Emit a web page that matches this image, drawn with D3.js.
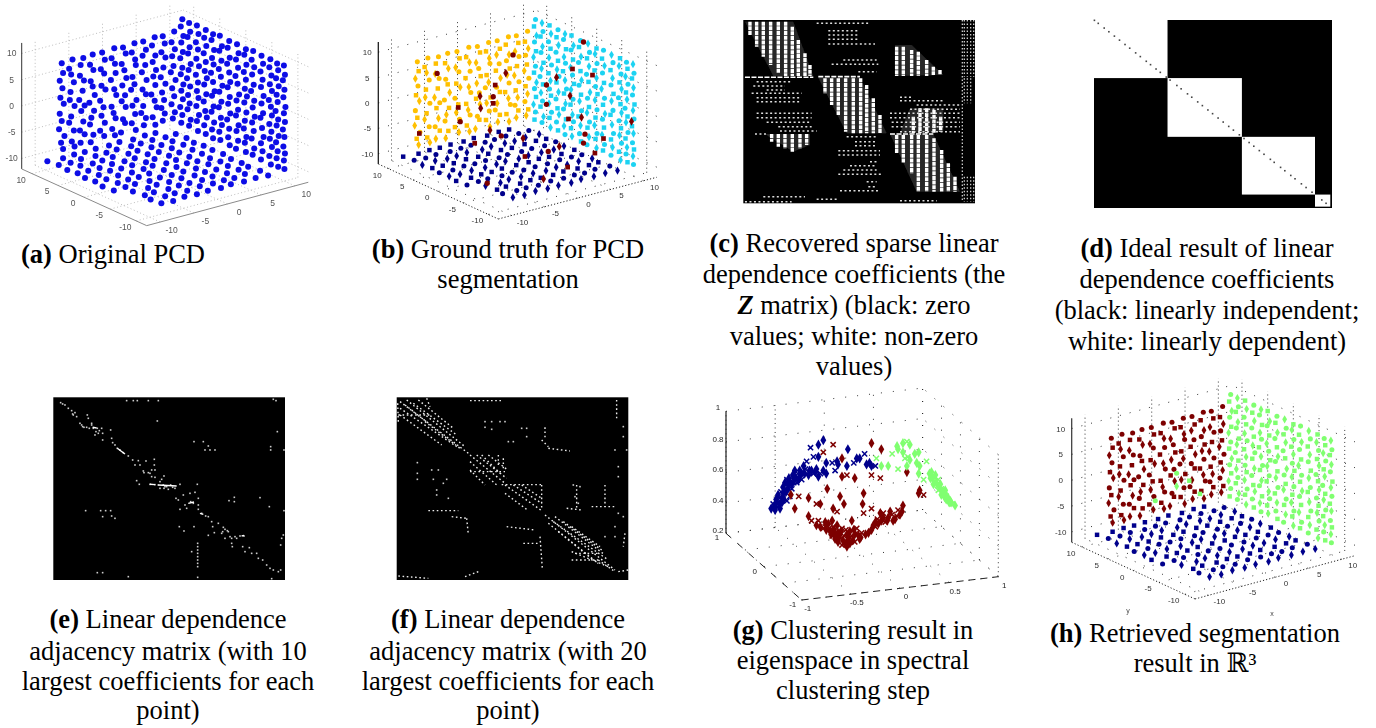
<!DOCTYPE html>
<html><head><meta charset="utf-8">
<script src="https://cdn.jsdelivr.net/npm/d3@7"></script>
<style>html,body{margin:0;padding:0;background:#fff}svg{display:block}</style>
</head><body><svg id="c" width="1376" height="728"></svg>
<script>
// ---------- shared point cloud (axis units) ----------
const backWall = [ // y = 10 plane: [x, z]
[-7.6,7.5],[-7.4,5.6],[-7.9,4.3],[-7.5,2.7],[-7.8,1.0],[-7.3,-0.3],[-7.9,-2.0],[-7.6,-3.5],[-8.0,-4.9],[-7.2,-6.5],[-7.7,-7.6],[-7.4,-8.9],
[-6.0,7.7],[-6.5,6.1],[-6.2,4.9],[-5.8,3.3],[-6.3,1.6],[-6.4,0.1],[-5.7,-1.3],[-6.2,-3.1],[-6.5,-4.2],[-5.8,-5.9],[-6.1,-7.9],[-5.7,-9.0],
[-4.4,7.4],[-4.8,6.2],[-4.9,4.2],[-4.3,3.1],[-4.5,1.2],[-5.0,-0.4],[-4.2,-1.7],[-4.7,-2.6],[-4.4,-4.7],[-4.9,-6.2],[-4.2,-7.2],[-4.8,-8.6],
[-3.0,7.6],[-3.4,5.8],[-2.9,4.6],[-3.3,2.6],[-3.0,1.5],[-2.7,-0.2],[-3.5,-1.4],[-2.8,-3.2],[-3.2,-4.4],[-3.4,-5.6],[-2.9,-7.7],[-3.3,-9.0],
[-1.6,7.5],[-1.2,6.0],[-1.8,4.4],[-1.3,3.4],[-1.7,1.2],[-1.1,0.3],[-1.9,-1.6],[-1.4,-3.0],[-1.7,-4.5],[-1.2,-6.0],[-1.9,-7.3],[-1.3,-8.5],
[0.2,7.7],[-0.2,5.9],[0.3,4.7],[0.4,2.9],[-0.3,1.8],[0.2,-0.1],[0.5,-1.3],[-0.2,-3.3],[0.1,-4.6],[0.4,-5.7],[-0.1,-7.6],[0.3,-8.9],
[1.5,7.4],[1.9,6.1],[1.3,4.3],[1.7,3.0],[2.0,1.4],[1.4,0.2],[1.8,-1.8],[1.3,-2.8],[1.9,-4.1],[1.5,-6.3],[1.8,-7.1],[1.2,-8.7],
[3.2,7.6],[2.8,6.0],[3.3,4.5],[3.4,3.4],[2.9,1.3],[3.2,-0.2],[2.7,-1.1],[3.5,-3.3],[2.9,-4.2],[3.3,-5.9],[2.8,-7.5],[3.4,-9.0],
[4.5,7.5],[4.9,5.8],[4.4,4.8],[4.8,2.9],[4.3,1.7],[5.0,0.0],[4.4,-1.6],[4.9,-2.7],[4.5,-4.8],[4.2,-6.0],[4.9,-7.2],[4.6,-8.5],
[6.2,7.7],[5.8,6.3],[6.3,4.2],[5.9,3.1],[6.4,1.4],[6.0,0.3],[6.3,-1.4],[5.7,-3.0],[6.2,-4.4],[6.5,-5.7],[5.9,-7.4],[6.3,-9.0],
[7.4,7.5],[7.7,6.0],[7.2,4.5],[7.8,3.3],[7.5,1.5],[7.1,-0.2],[7.8,-1.7],[7.3,-3.2],[7.6,-4.7],[7.2,-6.1],[7.7,-7.3],[7.4,-8.6],
[9.1,7.8],[8.7,5.9],[9.2,4.4],[8.8,3.2],[9.0,1.3],[8.6,0.2],[9.3,-1.5],[8.8,-2.9],[9.1,-4.5],[8.7,-5.9],[9.2,-7.6],[8.9,-8.7]
];
const sideWall = [ // x = 10 plane: [y, z]
[9.6,10],[9.9,8.5],[9.4,6.9],[9.8,5.5],[9.5,3.8],[10,2.4],[9.6,0.8],[9.9,-0.6],[9.4,-2.3],[9.8,-3.7],[9.5,-5.2],[10,-6.9],[9.6,-8.2],[9.8,-9.8],
[8.3,9.9],[8.1,8.3],[8.6,7.1],[8.2,5.3],[8.5,4.0],[8.0,2.2],[8.4,0.9],[8.7,-0.8],[8.1,-2.1],[8.5,-3.9],[8.2,-5.4],[8.6,-6.7],[8.0,-8.4],[8.3,-9.7],
[6.8,10.1],[6.5,8.6],[7.0,6.8],[6.6,5.6],[6.9,3.7],[6.4,2.5],[7.0,0.6],[6.6,-0.7],[6.8,-2.4],[6.5,-3.6],[6.9,-5.3],[6.4,-6.8],[6.8,-8.1],[6.6,-9.9],
[5.1,10],[5.4,8.4],[5.0,7.0],[5.5,5.4],[5.1,3.9],[5.3,2.1],[4.9,0.9],[5.4,-0.5],[5.0,-2.2],[5.5,-3.8],[5.2,-5.5],[4.9,-6.6],[5.4,-8.3],[5.1,-9.8],
[3.7,9.8],[4.0,8.6],[3.5,6.9],[3.9,5.2],[3.6,4.1],[4.1,2.3],[3.7,0.7],[3.4,-0.9],[3.9,-2.0],[3.6,-3.9],[4.0,-5.1],[3.5,-6.9],[3.9,-8.4],[3.7,-10],
[2.4,10.1],[2.0,8.3],[2.5,7.2],[2.1,5.5],[2.6,3.7],[2.2,2.4],[1.9,0.8],[2.5,-0.6],[2.1,-2.3],[2.6,-3.6],[2.2,-5.4],[2.0,-6.7],[2.5,-8.2],[2.3,-9.7],
[0.6,9.9],[0.9,8.5],[0.5,6.8],[1.0,5.4],[0.6,3.9],[0.4,2.2],[0.9,1.0],[0.5,-0.7],[0.8,-2.1],[0.4,-3.8],[1.0,-5.2],[0.6,-6.8],[0.8,-8.5],[0.5,-9.9],
[-0.9,10],[-1.2,8.4],[-0.7,7.0],[-1.1,5.6],[-0.6,3.8],[-1.0,2.5],[-1.3,0.6],[-0.8,-0.8],[-1.1,-2.4],[-0.7,-3.7],[-1.2,-5.3],[-0.8,-6.6],[-1.1,-8.3],[-0.7,-10],
[-2.6,9.8],[-2.3,8.6],[-2.7,6.9],[-2.2,5.3],[-2.6,4.0],[-2.4,2.2],[-2.8,0.9],[-2.3,-0.5],[-2.7,-2.2],[-2.4,-3.9],[-2.2,-5.5],[-2.7,-6.9],[-2.4,-8.1],[-2.6,-9.8],
[-4.0,10.1],[-3.7,8.3],[-4.2,7.1],[-3.8,5.5],[-4.1,3.7],[-3.6,2.3],[-4.2,0.7],[-3.9,-0.7],[-4.3,-2.3],[-3.8,-3.6],[-4.1,-5.1],[-3.7,-6.7],[-4.2,-8.4],[-3.9,-9.7],
[-5.6,9.9],[-5.9,8.5],[-5.4,6.8],[-5.8,5.4],[-5.5,3.9],[-6.0,2.4],[-5.6,0.8],[-5.9,-0.9],[-5.4,-2.0],[-5.7,-3.8],[-6.0,-5.4],[-5.5,-6.8],[-5.8,-8.2],[-5.5,-9.9],
[-7.3,10],[-7.1,8.4],[-7.5,7.0],[-7.2,5.2],[-7.6,4.1],[-7.0,2.1],[-7.4,1.0],[-7.6,-0.6],[-7.1,-2.4],[-7.5,-3.7],[-7.2,-5.2],[-7.6,-6.6],[-7.1,-8.5],[-7.4,-10],
[-8.6,9.8],[-8.8,8.6],[-8.4,6.9],[-8.9,5.6],[-8.5,3.8],[-8.7,2.5],[-8.3,0.6],[-8.8,-0.8],[-8.5,-2.1],[-8.9,-3.9],[-8.4,-5.3],[-8.7,-6.9],[-8.5,-8.3],[-8.8,-9.8],
[-9.9,10],[-10.1,8.3],[-9.7,7.1],[-10,5.4],[-9.8,3.9],[-10.2,2.2],[-9.9,0.9],[-10.1,-0.7],[-9.7,-2.3],[-10,-3.6],[-9.8,-5.5],[-10.1,-6.7],[-9.9,-8.1],[-10,-9.7]
];
const floorPts = [ // z = -10 plane: [x, y]
[-10,-3.1],[-10.2,-1.2],[-9.9,0.6],[-10.1,2.3],[-9.8,4.1],[-10.1,5.7],[-9.9,7.6],[-10.2,9.4],
[-8.2,-9.9],[-8.4,-8.1],[-8.1,-6.6],[-8.4,-4.7],[-8.2,-3.0],[-8.1,-1.4],[-8.4,0.4],[-8.2,2.1],[-8.3,4.0],[-8.0,5.9],[-8.3,7.4],[-8.1,9.1],
[-6.6,-10.1],[-6.4,-8.3],[-6.6,-6.4],[-6.3,-4.9],[-6.7,-2.9],[-6.4,-1.2],[-6.5,0.6],[-6.3,2.4],[-6.7,3.9],[-6.4,5.6],[-6.6,7.6],[-6.3,9.3],
[-4.7,-9.8],[-4.9,-8.2],[-4.6,-6.6],[-4.8,-4.6],[-4.7,-3.1],[-4.9,-1.3],[-4.6,0.4],[-4.8,2.2],[-4.7,4.1],[-4.9,5.7],[-4.6,7.4],[-4.8,9.2],
[-3.0,-10],[-3.2,-8.4],[-2.9,-6.4],[-3.1,-4.8],[-3.0,-2.9],[-3.2,-1.1],[-2.8,0.5],[-3.1,2.3],[-3.0,3.9],[-3.2,5.9],[-2.9,7.5],[-3.1,9.3],
[-1.3,-9.9],[-1.1,-8.1],[-1.4,-6.5],[-1.2,-4.7],[-1.4,-3.1],[-1.1,-1.2],[-1.3,0.7],[-1.2,2.1],[-1.4,4.0],[-1.1,5.6],[-1.3,7.6],[-1.2,9.2],
[0.5,-10.1],[0.7,-8.3],[0.4,-6.6],[0.6,-4.9],[0.4,-3.0],[0.7,-1.3],[0.5,0.4],[0.3,2.4],[0.6,4.1],[0.4,5.8],[0.7,7.4],[0.5,9.4],
[2.2,-9.8],[2.4,-8.2],[2.1,-6.4],[2.3,-4.7],[2.2,-3.1],[2.4,-1.1],[2.1,0.6],[2.3,2.2],[2.1,3.9],[2.4,5.7],[2.2,7.5],[2.3,9.1],
[4.0,-10],[3.8,-8.4],[4.1,-6.6],[3.9,-4.8],[4.2,-2.9],[3.8,-1.3],[4.0,0.5],[3.9,2.3],[4.1,4.0],[3.8,5.6],[4.0,7.6],[4.2,9.3],
[5.8,-9.9],[5.6,-8.1],[5.9,-6.5],[5.7,-4.7],[5.9,-3.0],[5.6,-1.4],[5.8,0.4],[5.7,2.1],[5.9,4.1],[5.6,5.8],[5.8,7.4],[5.7,9.2],
[7.5,-10.1],[7.7,-8.3],[7.4,-6.4],[7.6,-4.9],[7.4,-3.1],[7.7,-1.2],[7.5,0.6],[7.6,2.4],[7.3,3.9],[7.6,5.7],[7.4,7.5]
];
// outliers in the ground truth panel: [x,y,z]
const outliersB = [[-4.6,10,4.2],[-1.4,10,-3.6],[1.9,10,-2.5],[3.9,10,-3.3],[4.2,10,-1.1],[5.8,10,.7],[6.9,10,3.9],[3.9,10,-4.6],[2,10,-4.9],[-1.1,10,-6.5],[-7.3,10,-6.7],[3.4,10,-9.7],
[10,0,9.9],[10,2.2,3.6],[10,5.4,.5],[10,7.4,-1.9],[10,-1.8,4.2],[10,2.7,-1.9],[10,7.4,-5.7],[10,3,-6.6],[10,.4,-5.1],[10,-.3,-8.1],[10,-4,-7.3],[10,-9.6,-1.4],[10,0,-10],
[1.55,.55,-10],[6.96,.83,-10],[4.85,.25,-10],[3.43,-5.5,-10],[-1.36,-7,-10],[-7.7,-4.1,-10],[9,-3.6,-10],[5.2,5.75,-10],[3.6,8,-10],[-.5,7.9,-10]];
const mislabeledH = [[2.2,10,-2.7],[4.1,10,-4.8],[2.2,10,-5.2],[-1,10,-6.9],[5.7,10,-7.9]];
const tickValues = [-10,-5,0,5,10];

// ---------- eigenspace clusters: [horizontal, vertical] ----------
const gBlue = [[-1.31,.33],[-1.29,.36],[-1.27,.32],[-1.26,.39],[-1.25,.34],[-1.24,.42],[-1.23,.36],[-1.21,.44],[-1.2,.4],[-1.19,.47],[-1.19,.42],[-1.17,.5],[-1.16,.44],[-1.15,.52],[-1.14,.46],[-1.13,.53],[-1.12,.41],[-1.1,.49],[-1.09,.55],[-1.08,.5],[-1.07,.58],[-1.06,.53],[-1.04,.56],[-1.02,.54],[-1.02,.58],[-1,.52],[-.98,.61],[-.97,.56],[-.95,.64],[-.93,.55],[-.9,.58],[-.88,.56],[-.85,.59],[-.83,.54],[-.81,.56],[-.78,.58],[-.75,.56],[-.91,.73],[-.83,.75],[-.78,.78],[-.88,.67],[-.83,.67],[-.75,.63],[-.69,.63],[-.64,.64],[-.63,.62],[-.66,.58],[-.54,.61],[-.53,.72],[-.47,.63],[-.44,.66],[-.41,.66],[-.36,.69],[-.34,.62],[-.29,.61],[-.25,.61],[-.31,.63],[-1.28,.34],[-1.24,.37],[-1.22,.33],[-1.18,.39],[-1.15,.38],[-1.2,.37],[-1.27,.36],[-1.22,.4],[-1.18,.44],[-1.14,.49],[-1.1,.46],[-1.12,.5],[-1.08,.53],[-1.05,.5],[-1.03,.52],[-1,.56],[-.96,.59],[-.92,.58],[-.86,.57]];
const gRed = [[-.93,.28],[-.9,.25],[-.85,.22],[-.81,.21],[-.78,.2],[-.75,.19],[-.71,.18],[-.69,.15],[-.66,.13],[-.63,.11],[-.59,.09],[-.56,.1],[-.53,.12],[-.49,.15],[-.46,.16],[-.42,.15],[-.39,.17],[-.51,.18],[-.63,.17],[-.68,.21],[-.73,.23],[-.64,.22],[-.59,.2],[-.54,.16],[-.47,.19],[-.44,.2],[-.32,.17],[-.29,.19],[-.25,.21],[-.22,.23],[-.19,.25],[-.15,.24],[-.12,.27],[-.07,.25],[-.03,.28],[.02,.31],[.03,.35],[-.02,.32],[-.1,.31],[-.2,.3],[-.29,.33],[-.25,.24],[-.68,.33],[-.64,.31],[-.69,.25],[-.76,.24],[-.83,.25],[-.61,.16],[-.58,.12],[-.64,.16],[-.68,.17],[-.41,.13],[-.46,.11],[-.51,.1],[-.54,.08],[-.78,.7],[-.46,.53],[-.59,.54],[-.54,.55],[-.74,.46],[-.61,.41],[-.85,.36],[-.57,.36],[-.38,.36],[-.37,.3],[-.49,.25],[-.37,.43],[-1.03,.41],[-1.11,.42],[-1.07,.33],[-.68,.75],[-.59,.66],[-.29,.76],[-.29,.55],[.07,.57],[.2,.45],[.24,.42],[.19,.43],[-.19,.72],[-.2,.53],[-.93,.4],[-.81,.36],
[-.72,.2],[-.67,.19],[-.62,.14],[-.57,.15],[-.52,.14],[-.48,.12],[-.44,.17],[-.4,.14],[-.6,.18],[-.55,.19],[-.65,.15],[-.7,.16],[-.76,.21],[-.35,.16],[-.27,.22],[-.23,.26],[-.17,.27],[-.13,.25],[-.08,.29],[-.05,.26],[0,.29],[-.17,.3]];
const gGreen = [[.03,.76],[.07,.77],[.1,.75],[-.03,.74],[-.08,.69],[-.02,.72],[.03,.7],[.08,.67],[.15,.69],[.1,.65],[.05,.66],[.17,.63],[.2,.61],[.27,.64],[.32,.57],[.36,.55],[.39,.52],[.41,.49],[.37,.5],[.42,.46],[.44,.44],[.46,.43],[.47,.41],[.49,.4],[.51,.38],[.53,.36],[.56,.35],[.34,.49],[.24,.52],[.19,.56],[.07,.61],[-.02,.59],[-.12,.61],[-.19,.61],[-.24,.66],[.19,.7],[.31,.53],[.39,.45],[.42,.42],[.46,.45],[.38,.48],[.43,.44],[.45,.41],[.48,.39],[.5,.37],[.4,.47],[.36,.51],[.33,.53],[.3,.56],[.44,.42],[.47,.39],[.52,.37]];
const gXTicks = [-1,-.5,0,.5,1];
const gYTicks = [-1,0,1];
const gZTicks = [.2,.4,.6,.8,1];

// ---------- matrix panels (index units) ----------
const cRegions = [[[45,35],[190,35],[250,198],[130,198]],[[265,203],[390,203],[470,370],[350,370]],[[480,372],[610,372],[690,545],[560,545]],[[495,105],[545,105],[640,195],[495,198]],[[105,372],[240,372],[240,405],[190,425]],[[540,295],[640,295],[640,365],[510,370]]];
const cStripes = [[60,35,75],[80,35,110],[100,35,140],[122,35,165],[145,35,190],[167,35,198],[187,50,198],[205,90,198],[225,130,198],[240,165,198],
[285,205,250],[305,205,285],[325,205,315],[347,205,365],[370,205,370],[392,205,370],[410,225,370],[430,265,370],[450,315,370],
[500,375,430],[520,375,460],[545,375,490],[565,375,545],[590,375,545],[612,385,545],[635,420,545],[655,460,545],[675,500,545],
[500,110,198],[520,110,198],[545,120,198],[565,125,198],[590,150,198],[610,170,195],[630,180,195],
[125,372,395],[145,372,410],[165,372,415],[187,372,425],[210,372,415],[230,372,405],
[550,320,370],[570,295,370],[590,295,370],[612,300,370],[632,320,365]];
const cDots = [[40,260,420],[62,295,385],[75,295,385],[88,295,385],[102,295,435],[150,340,440],[163,305,445],[185,385,440],
[215,80,185],[228,70,165],[240,110,165],[250,65,215],[263,80,215],[275,80,215],[310,80,245],[323,80,245],[337,110,245],[350,145,245],[363,150,260],[372,75,110],
[380,350,440],[395,375,440],[407,375,440],[422,325,450],[435,325,450],[455,420,440],[467,360,440],[480,340,440],[493,325,460],[515,410,440],[530,415,440],[542,330,450],[560,100,225],[568,260,320],[575,45,185],[572,510,620],
[262,510,550],[272,510,640],[285,560,690],[298,540,690],[310,480,690],[323,480,690],[337,485,690],[350,485,690],[365,510,690]];
const cBright = [[202,45,250],[200,265,390],[372,480,610]];
const cEdge = [[703,30,200],[712,30,200],[722,30,200],[731,30,200],[703,205,280],[712,205,280],[722,205,280],[703,500,575],[712,500,575],[722,500,575],[731,500,575],[697,30,575]];
const dBlockEnds = [0,173,348,520,556];
const dDiagonal = [1,10,24,35,48,60,73,84,98,109,123,133,146,156,170,179,195,205,220,230,244,255,268,279,292,304,317,328,342,353,365,376,389,400,415,424,439,449,463,473,488,499,513,536,546];
const ePoints = [[62,38],[68,42],[75,45],[85,55],[95,62],[105,68],[100,75],[110,80],[125,105],[132,112],[140,112],[155,105],[160,115],[172,115],[185,115],[188,130],[188,150],[165,135],[175,130],[142,75],[145,85],[155,100],[212,120],[215,145],[218,158],[225,165],[232,175],[240,180],[250,188],[265,198],[278,210],[295,212],[285,225],[300,225],[318,213],[343,208],[343,225],[310,243],[325,248],[335,240],[345,240],[335,260],[345,262],[360,275],[372,258],[290,272],[298,283],[330,283],[345,284],[355,285],[370,285],[380,290],[392,285],[405,295],[420,283],[372,295],[360,295],[385,298],[408,325],[415,330],[430,315],[450,310],[465,307],[472,283],[475,325],[475,345],[475,358],[452,335],[460,340],[435,345],[420,358],[440,355],[485,370],[497,378],[505,380],[515,395],[518,410],[535,400],[550,412],[565,425],[545,430],[555,445],[575,445],[590,445],[600,438],[612,438],[577,470],[608,470],[615,485],[628,473],[635,490],[650,490],[655,505],[668,510],[680,525],[690,535],[700,540],[715,545],[722,540],
[260,32],[280,32],[292,32],[325,32],[355,32],[700,28],[708,32],[352,93],[712,125],[462,155],[490,155],[505,168],[495,180],[510,180],[525,180],[692,170],[692,180],[732,180],[567,332],[583,322],[583,335],[660,323],[688,350],[732,362],[137,362],[182,362],[197,362],[212,362],[188,380],[215,378],[225,385],[418,410],[432,423],[462,410],[505,436],[523,428],[455,485],[473,460],[473,470],[473,480],[473,490],[473,500],[473,510],[473,520],[473,530],[473,562],[172,548],[188,548],[265,560],[695,566],[725,445],[730,435],[722,465],
[128,110],[148,115],[178,122],[168,125],[98,72],[120,100],[312,248],[330,250],[365,268],[375,290],[398,292],[562,422],[555,418],[548,425],[570,440],[585,440],[575,460]];
const eBright = [[232,175,255,192],[330,283,345,284],[355,285,410,288],[480,370,490,373],[158,112,170,114],[445,340,462,336],[605,438,612,436]];
const fBands = [[45,35,250,190],[65,30,240,170],[45,55,215,170],[85,40,215,135],[45,75,170,165],[100,30,205,115],[60,45,130,100],[120,95,225,175],[255,195,360,280],[275,195,365,265],[255,215,335,285],[310,195,368,240],[255,240,300,285],[290,195,345,250],[360,285,470,362],[385,285,470,340],[360,310,430,362],[410,285,470,325],[480,375,690,540],[510,380,660,495],[490,400,640,520],[560,410,645,470],[520,425,625,510],[560,485,670,530],[535,395,650,480],[505,395,670,510],[640,510,690,545],[350,284,470,284],[470,285,470,360],[255,32,355,32],[480,112,480,150],[490,175,555,183],[470,150,490,170],[695,30,695,90],[130,362,220,362],[200,380,245,385],[245,385,250,435],[465,440,472,535],[575,285,575,360],[660,285,660,350],[620,350,690,350],[365,410,450,420],[415,460,465,460],[545,355,590,360],[40,558,130,565],[240,560,280,545],[700,545,730,540],[38,40,40,100],[125,25,135,50],[720,430,715,470],[255,245,360,245],[40,75,135,75],[340,195,340,225],[355,205,355,240],[560,510,640,510],[570,490,640,490]];
const fPoints = [[300,95],[320,95],[345,95],[360,95],[300,112],[320,118],[410,115],[425,115],[425,140],[370,155],[385,155],[97,218],[97,250],[97,268],[140,240],[160,240],[145,268],[185,268],[155,300],[155,315],[190,325],[175,280],[660,440],[690,440],[715,110],[715,140],[690,180],[725,180],[700,230],[700,260],[565,285],[585,290],[570,320],[580,340],[700,370],[715,380],[690,410]];

// ---------- captions: [centre x, baseline y, [[text, style]...]] ----------
const captions = [
[113,263,[["(a)","b"],[" Original PCD",""]]],
[508,258,[["(b)","b"],[" Ground truth for PCD",""]]],
[508,288,[["segmentation",""]]],
[854,252,[["(c)","b"],[" Recovered sparse linear",""]]],
[854,283,[["dependence coefficients (the",""]]],
[854,314,[["Z","bi"],[" matrix) (black: zero",""]]],
[854,345,[["values; white: non-zero",""]]],
[854,375,[["values)",""]]],
[1207,257,[["(d)","b"],[" Ideal result of linear",""]]],
[1207,288,[["dependence coefficients",""]]],
[1207,319,[["(black: linearly independent;",""]]],
[1207,350,[["white: linearly dependent)",""]]],
[168,628,[["(e)","b"],[" Linear dependence",""]]],
[168,660,[["adjacency matrix (with 10",""]]],
[168,690,[["largest coefficients for each",""]]],
[168,719,[["point)",""]]],
[508,628,[["(f)","b"],[" Linear dependence",""]]],
[508,660,[["adjacency matrix (with 20",""]]],
[508,690,[["largest coefficients for each",""]]],
[508,719,[["point)",""]]],
[853,639,[["(g)","b"],[" Clustering result in",""]]],
[853,669,[["eigenspace in spectral",""]]],
[853,699,[["clustering step",""]]],
[1195,642,[["(h)","b"],[" Retrieved segmentation",""]]],
[1195,672,[["result in ℝ³",""]]]
];

// ---------- drawing ----------
const svg = d3.select("#c");
const defs = svg.append("defs");
[["blurA",.6],["blurB",.5],["blurM",.45]].forEach(([id,s])=>{
  defs.append("filter").attr("id",id).attr("filterUnits","userSpaceOnUse")
    .attr("x",0).attr("y",0).attr("width",1376).attr("height",728)
    .append("feGaussianBlur").attr("stdDeviation",s);
});
const backPts = backWall.map(([x,z])=>[x,10,z]);
const sidePts = sideWall.map(([y,z])=>[10,y,z]);
const floorAll = floorPts.map(([x,y])=>[x,y,-10]);

function cube(cfg){
  const {left,front,right,zUnit} = cfg;
  const sxX=d3.scaleLinear([-12,12],[0,right[0]-front[0]]), sxY=d3.scaleLinear([-12,12],[0,right[1]-front[1]]);
  const syX=d3.scaleLinear([-12,12],[0,left[0]-front[0]]), syY=d3.scaleLinear([-12,12],[0,left[1]-front[1]]);
  const sz=d3.scaleLinear([-12.2,12.2],[0,-24.4*zUnit]);
  return (x,y,z)=>[front[0]+sxX(x)+syX(y), front[1]+sxY(x)+syY(y)+sz(z)];
}
function line3(g,p,a,b,st){
  const A=p(...a),B=p(...b);
  g.append("line").attr("x1",A[0]).attr("y1",A[1]).attr("x2",B[0]).attr("y2",B[1])
   .attr("stroke",st.c).attr("stroke-width",st.w||1).attr("stroke-dasharray",st.d||null);
}
function cubeAxes(g,p,o){
  const L=12;
  tickValues.forEach(t=>{
    line3(g,p,[t,L,-L],[t,L,L],o.vert);
    line3(g,p,[L,t,-L],[L,t,L],o.vert);
    line3(g,p,[-L,L,t],[L,L,t],o.horiz);
    line3(g,p,[L,-L,t],[L,L,t],o.horiz);
    line3(g,p,[t,-L,-L],[t,L,-L],o.horiz);
    line3(g,p,[-L,t,-L],[L,t,-L],o.horiz);
  });
  line3(g,p,[-L,L,-L],[-L,L,L],o.zAxis);
  line3(g,p,[-L,L,-L],[-L,-L,-L],o.xyAxis);
  line3(g,p,[-L,-L,-L],[L,-L,-L],o.xyAxis);
  const lab=(pos,t)=>g.append("text").attr("x",pos[0]).attr("y",pos[1]).attr("text-anchor","middle")
    .attr("font-family","Liberation Sans").attr("font-size",o.fs).attr("fill",o.tc).text(t);
  tickValues.forEach(t=>{
    const a=p(-L,L,t); lab([a[0]-o.zOff,a[1]+3],t);
    const b=p(t,-L,-L); lab([b[0]+o.xOff[0],b[1]+o.xOff[1]],t);
    const c=p(-L,t,-L); lab([c[0]+o.yOff[0],c[1]+o.yOff[1]],t);
  });
}
const shapes=[d3.symbolCircle,d3.symbolSquare,d3.symbolDiamond];
function marks(g,pts,p,color,size){
  g.append("g").selectAll("path").data(pts).join("path")
   .attr("d",(d,i)=>d3.symbol().type(shapes[i%3]).size(size)())
   .attr("transform",d=>{const q=p(...d);return `translate(${q[0]},${q[1]})`;})
   .attr("fill",color);
}

// (a)
{
  const p=cube({left:[21.7,170],front:[146.7,226.7],right:[308.3,183.3],zUnit:5.25});
  const g=svg.append("g").attr("filter","url(#blurA)");
  const s={c:"#b5b5b5",d:"1 2.5",w:.9};
  cubeAxes(g,p,{vert:s,horiz:s,zAxis:{c:"#333",w:1},xyAxis:{c:"#8a8a8a",w:1},fs:8.5,tc:"#555",zOff:10,xOff:[11.5,11],yOff:[-11,9]});
  g.append("g").selectAll("circle").data([...backPts,...sidePts,...floorAll]).join("circle")
    .attr("cx",d=>p(...d)[0]).attr("cy",d=>p(...d)[1]).attr("r",3.0).attr("fill","#0a0ae6");
}
// (b)
{
  const p=cube({left:[378.3,165],front:[498.3,220],right:[656.7,178.3],zUnit:5.08});
  const g=svg.append("g").attr("filter","url(#blurB)");
  cubeAxes(g,p,{vert:{c:"#222",d:"1 3",w:.9},horiz:{c:"#222",d:"1 9",w:.9},zAxis:{c:"#111",w:1.2},xyAxis:{c:"#222",d:"1.2 2",w:1},fs:8,tc:"#333",zOff:11,xOff:[11,9],yOff:[-11,9]});
  marks(g,backPts,p,"#ffc000",20);
  marks(g,sidePts,p,"#1fd3f2",20);
  marks(g,floorAll,p,"#00008c",20);
  marks(g,outliersB,p,"#7d0000",22);
}
// (h)
{
  const p=cube({left:[1071.7,543.3],front:[1195,600],right:[1355,556.7],zUnit:5.17});
  const g=svg.append("g").attr("filter","url(#blurB)");
  cubeAxes(g,p,{vert:{c:"#222",d:"1 3",w:.9},horiz:{c:"#222",d:"1 9",w:.9},zAxis:{c:"#333",w:1.2},xyAxis:{c:"#222",d:"1.2 2",w:1},fs:8,tc:"#333",zOff:11,xOff:[11,9],yOff:[-11,9]});
  marks(g,backPts,p,"#7d0000",20);
  marks(g,sidePts,p,"#80ff70",20);
  marks(g,floorAll,p,"#00008c",20);
  marks(g,mislabeledH,p,"#80ff70",20);
  g.append("text").attr("x",1272).attr("y",616).attr("font-family","Liberation Sans").attr("font-size",7).attr("fill","#444").attr("text-anchor","middle").text("x");
  g.append("text").attr("x",1128).attr("y",613).attr("font-family","Liberation Sans").attr("font-size",7).attr("fill","#444").attr("text-anchor","middle").text("y");
}
// (g)
{
  const left=[726,533.3],front=[801.7,600],right=[998.3,576.7],top=[0,-122];
  const sx=d3.scaleLinear([-1,1],[0,1]), sy=d3.scaleLinear([1,-1],[0,1]), sz=d3.scaleLinear([.2,1],[0,1]);
  const P=(x,y,z)=>{const a=sx(x),b=sy(y),c=sz(z);
    return [left[0]+a*(right[0]-front[0])+b*(front[0]-left[0])+c*top[0],
            left[1]+a*(right[1]-front[1])+b*(front[1]-left[1])+c*top[1]];};
  const g=svg.append("g").attr("filter","url(#blurB)");
  const ln=(a,b,st)=>line3(g,P,a,b,st);
  const vs={c:"#222",d:"1 3.5",w:.9}, hs={c:"#222",d:"1 11",w:.9};
  gXTicks.forEach(t=>{ ln([t,1,.2],[t,1,1],t==-1?vs:(t==-.5?vs:hs)); ln([1,t,.2],[1,t,1],t==1?hs:(t==-1?vs:hs)); ln([t,-1,.2],[t,1,.2],hs); ln([-1,t,.2],[1,t,.2],hs); });
  gZTicks.forEach(t=>{ ln([-1,1,t],[1,1,t],hs); ln([1,-1,t],[1,1,t],hs); });
  ln([-1,1,.2],[-1,1,1],{c:"#222",w:1.2});
  ln([-1,1,.2],[-1,-1,.2],{c:"#222",d:"7 8",w:1});
  ln([-1,-1,.2],[1,-1,.2],{c:"#222",d:"7 5",w:1});
  const lab=(x,y,t)=>g.append("text").attr("x",x).attr("y",y).attr("text-anchor","middle").attr("font-family","Liberation Sans").attr("font-size",8).attr("fill","#222").text(t);
  gZTicks.forEach(t=>{const a=P(-1,1,t); lab(a[0]-8,a[1]+(t==1?-1:0),t);});
  gXTicks.forEach(t=>{const a=P(t,-1,.2); lab(a[0]+6,a[1]+11,t);});
  gYTicks.forEach(t=>{const a=P(-1,t,.2); lab(a[0]-9,a[1]+7,t);});
  const h=d3.scaleLinear([0,1],[900,998.33]);
  const v=d3.scaleLinear([.2,1],[528.3,406.7]);
  [[gBlue,"#00008c"],[gRed,"#7d0000"],[gGreen,"#80ff70"]].forEach(([pts,col])=>{
    const m=g.append("g");
    pts.forEach((d,i)=>{
      const x=h(d[0]),y=v(d[1]);
      if(i%3===1){ m.append("path").attr("d",`M${x-2.6},${y-2.6}L${x+2.6},${y+2.6}M${x-2.6},${y+2.6}L${x+2.6},${y-2.6}`).attr("stroke",col).attr("stroke-width",1.5).attr("fill","none"); }
      else { m.append("path").attr("transform",`translate(${x},${y})`).attr("d",d3.symbol().type(d3.symbolDiamond).size(30)()).attr("fill",col); }
    });
  });
}
// (c)
{
  const g=svg.append("g").attr("filter","url(#blurM)");
  const x=d3.scaleLinear([40,735],[743.3,975]), y=d3.scaleLinear([30,580],[20,203.3]);
  g.append("rect").attr("x",x(40)).attr("y",y(30)).attr("width",x(735)-x(40)).attr("height",y(580)-y(30)).attr("fill","#000");
  g.append("g").selectAll("path").data(cRegions).join("path").attr("d",d=>d3.line().x(q=>x(q[0])).y(q=>y(q[1]))(d)+"Z").attr("fill","#262626");
  g.append("g").selectAll("line").data(cStripes).join("line").attr("x1",d=>x(d[0])).attr("x2",d=>x(d[0])).attr("y1",d=>y(d[1])).attr("y2",d=>y(d[2]))
    .attr("stroke","#fff").attr("stroke-width",3.4).attr("stroke-dasharray","4 .7");
  g.append("g").selectAll("line").data(cDots).join("line").attr("y1",d=>y(d[0])).attr("y2",d=>y(d[0])).attr("x1",d=>x(d[1])).attr("x2",d=>x(d[2]))
    .attr("stroke","#ddd").attr("stroke-width",1.5).attr("stroke-dasharray","2 2.5");
  g.append("g").selectAll("line").data(cBright).join("line").attr("y1",d=>y(d[0])).attr("y2",d=>y(d[0])).attr("x1",d=>x(d[1])).attr("x2",d=>x(d[2]))
    .attr("stroke","#fff").attr("stroke-width",1.6).attr("stroke-dasharray","5 1.5");
  g.append("g").selectAll("line").data(cEdge).join("line").attr("x1",d=>x(d[0])).attr("x2",d=>x(d[0])).attr("y1",d=>y(d[1])).attr("y2",d=>y(d[2]))
    .attr("stroke","#ccc").attr("stroke-width",1.3).attr("stroke-dasharray","1.5 2");
}
// (d)
{
  const g=svg.append("g").attr("filter","url(#blurM)");
  const x=d3.scaleLinear([0,560],[1094,1332]), y=d3.scaleLinear([0,560],[20,208]);
  g.append("rect").attr("x",x(0)).attr("y",y(0)).attr("width",x(560)-x(0)).attr("height",y(560)-y(0)).attr("fill","#000");
  const pairs=d3.pairs(dBlockEnds);
  g.append("g").selectAll("rect").data(pairs).join("rect").attr("x",d=>x(d[0])).attr("y",d=>y(d[0]))
    .attr("width",d=>x(d[1])-x(d[0])).attr("height",d=>y(d[1])-y(d[0])).attr("fill","#fff");
  g.append("g").selectAll("rect").data(dDiagonal).join("rect").attr("x",d=>x(d)-.8).attr("y",d=>y(d)-.8).attr("width",1.6).attr("height",1.6).attr("fill","#444");
}
// (e)
{
  const g=svg.append("g").attr("filter","url(#blurM)");
  const x=d3.scaleLinear([40,735],[53.3,285]), y=d3.scaleLinear([22,570],[397.3,580]);
  g.append("rect").attr("x",x(40)).attr("y",y(22)).attr("width",x(735)-x(40)).attr("height",y(570)-y(22)).attr("fill","#000");
  g.append("g").selectAll("rect").data(ePoints).join("rect").attr("x",d=>x(d[0])-.8).attr("y",d=>y(d[1])-.8).attr("width",1.6).attr("height",1.6).attr("fill","#ccc");
  g.append("g").selectAll("line").data(eBright).join("line").attr("x1",d=>x(d[0])).attr("y1",d=>y(d[1])).attr("x2",d=>x(d[2])).attr("y2",d=>y(d[3])).attr("stroke","#fff").attr("stroke-width",1.4);
}
// (f)
{
  const g=svg.append("g").attr("filter","url(#blurM)");
  const x=d3.scaleLinear([35,730],[396.7,628.3]), y=d3.scaleLinear([22,570],[397.3,580]);
  g.append("rect").attr("x",x(35)).attr("y",y(22)).attr("width",x(730)-x(35)).attr("height",y(570)-y(22)).attr("fill","#000");
  g.append("g").selectAll("line").data(fBands).join("line").attr("x1",d=>x(d[0])).attr("y1",d=>y(d[1])).attr("x2",d=>x(d[2])).attr("y2",d=>y(d[3]))
    .attr("stroke","#eee").attr("stroke-width",1.4).attr("stroke-dasharray","1.6 2.6");
  g.append("g").selectAll("rect").data(fPoints).join("rect").attr("x",d=>x(d[0])-.8).attr("y",d=>y(d[1])-.8).attr("width",1.6).attr("height",1.6).attr("fill","#ccc");
}
// captions
const cap=svg.append("g").attr("font-family","'Liberation Serif','DejaVu Serif',serif").attr("font-size",26.5).attr("fill","#000").attr("text-anchor","middle");
captions.forEach(([cx,by,parts])=>{
  const t=cap.append("text").attr("x",cx).attr("y",by);
  parts.forEach(([s,st])=>{
    const sp=t.append("tspan").text(s);
    if(st.includes("b")) sp.attr("font-weight","bold");
    if(st.includes("i")) sp.attr("font-style","italic");
  });
});
</script></body></html>
